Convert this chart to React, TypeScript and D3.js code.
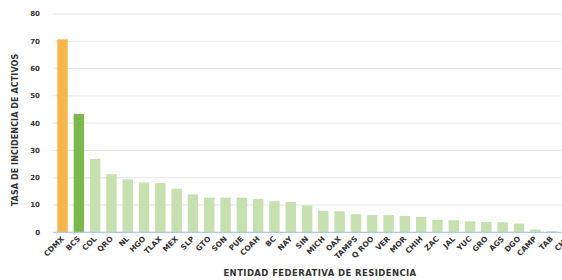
import React from "react";
import * as d3 from "d3";

const states = ["CDMX","BCS","COL","QRO","NL","HGO","TLAX","MEX","SLP","GTO","SON","PUE","COAH","BC","NAY","SIN","MICH","OAX","TAMPS","Q ROO","VER","MOR","CHIH","ZAC","JAL","YUC","GRO","AGS","DGO","CAMP","TAB","CHS"];
const rates = [70.7,43.4,26.9,21.3,19.4,18.2,18.0,16.0,13.9,12.7,12.7,12.7,12.2,11.4,11.1,9.8,7.9,7.7,6.6,6.3,6.3,6.0,5.7,4.6,4.4,4.0,3.8,3.7,3.2,1.0,0.4,0.1];
const yTicks = [0,10,20,30,40,50,60,70,80];
const yTitle = "TASA DE INCIDENCIA DE ACTIVOS";
const xTitle = "ENTIDAD FEDERATIVA DE RESIDENCIA";

const W = 562, H = 280;
const FONT = "'DejaVu Sans', sans-serif";

export default function App() {
  const x = d3.scaleBand<string>().domain(states).range([54.4, 576]).paddingInner(0.36).paddingOuter(0.18);
  const y = d3.scaleLinear().domain([0, 80]).range([232.3, 14]);
  const color = (i: number) => (i === 0 ? "#F6B64C" : i === 1 ? "#7DB84C" : "#C6E0AF");
  return (
    <svg width={W} height={H} style={{ position: "absolute", left: 0, top: 0, background: "#fff" }}>
      {yTicks.map((t) => (
        <g key={t}>
          {t > 0 && <line x1={53} x2={W} y1={y(t)} y2={y(t)} stroke="#E6E6E6" strokeWidth={1} />}
          <text x={40} y={y(t)} dy="0.35em" textAnchor="end" fontFamily={FONT} fontWeight="bold" fontSize={7} fill="#333">{t}</text>
        </g>
      ))}
      {states.map((s, i) => (
        <rect key={s} x={x(s)} y={y(rates[i])} width={x.bandwidth()} height={y(0) - y(rates[i])} fill={color(i)} />
      ))}
      <line x1={53} x2={W} y1={y(0)} y2={y(0)} stroke="#AFC8E6" strokeWidth={1.2} />
      {states.map((s) => {
        const cx = (x(s) as number) + x.bandwidth() / 2 + 2;
        return (
          <text key={s} transform={`translate(${cx},${y(0) + 7}) rotate(-45)`} textAnchor="end" fontFamily={FONT} fontWeight="bold" fontSize={7.5} fill="#333">{s}</text>
        );
      })}
      <text transform={`translate(18,130) rotate(-90)`} textAnchor="middle" fontFamily={FONT} fontWeight="bold" fontSize={8} letterSpacing={0.1} fill="#333">{yTitle}</text>
      <text x={320} y={276} textAnchor="middle" fontFamily={FONT} fontWeight="bold" fontSize={8.5} letterSpacing={0.4} fill="#333">{xTitle}</text>
    </svg>
  );
}
